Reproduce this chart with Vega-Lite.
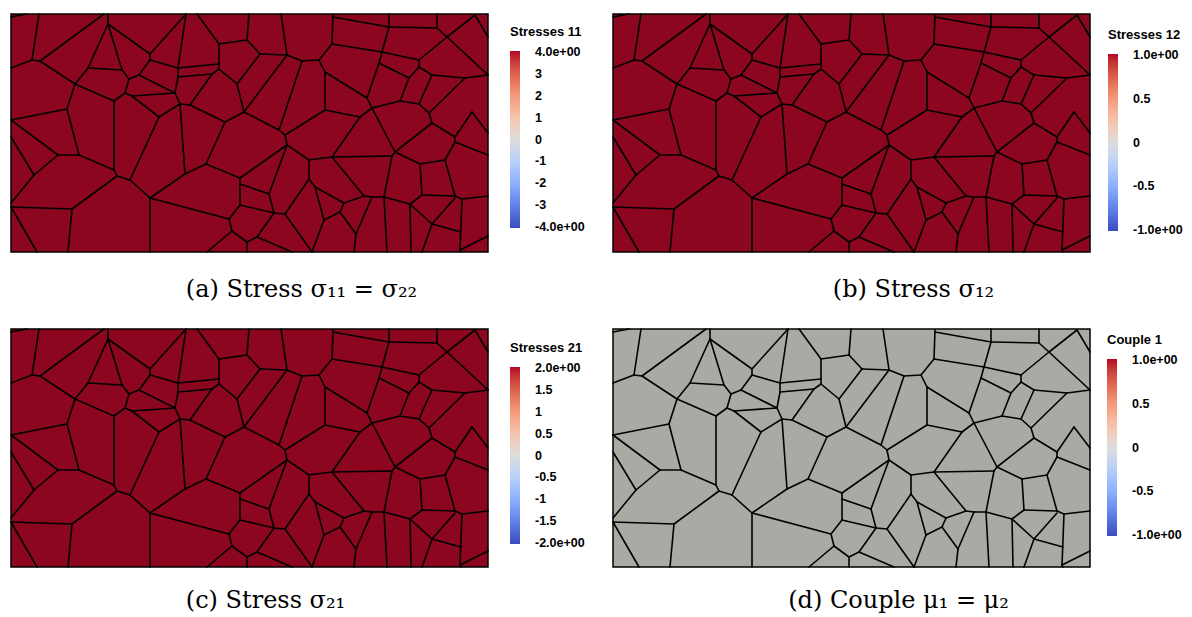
{
"$schema": "https://vega.github.io/schema/vega-lite/v6.json",
"background": "white",
"padding": {"left": 9, "top": 12, "right": 0, "bottom": 0},
"datasets": {
"edges": [
{"x1":9,"y1":15,"x2":25,"y2":12},{"x1":37,"y1":12,"x2":30,"y2":58},{"x1":30,"y1":58,"x2":9,"y2":66},{"x1":30,"y1":58,"x2":38,"y2":59},
{"x1":38,"y1":59,"x2":102,"y2":12},{"x1":38,"y1":59,"x2":73,"y2":82},{"x1":73,"y1":82,"x2":86,"y2":66},{"x1":86,"y1":66,"x2":106,"y2":22},
{"x1":106,"y1":22,"x2":106,"y2":12},{"x1":86,"y1":66,"x2":120,"y2":68},{"x1":106,"y1":22,"x2":120,"y2":68},{"x1":120,"y1":68,"x2":127,"y2":77},
{"x1":127,"y1":77,"x2":137,"y2":73},{"x1":127,"y1":77,"x2":123,"y2":91},{"x1":106,"y1":22,"x2":148,"y2":52},{"x1":148,"y1":52,"x2":184,"y2":12},
{"x1":148,"y1":52,"x2":148,"y2":58},{"x1":148,"y1":58,"x2":137,"y2":73},{"x1":148,"y1":58,"x2":176,"y2":66},{"x1":137,"y1":73,"x2":173,"y2":91},
{"x1":123,"y1":91,"x2":130,"y2":94},{"x1":130,"y1":94,"x2":173,"y2":91},{"x1":123,"y1":91,"x2":112,"y2":99},{"x1":112,"y1":99,"x2":73,"y2":82},
{"x1":112,"y1":99,"x2":112,"y2":168},{"x1":73,"y1":82,"x2":65,"y2":107},{"x1":65,"y1":107,"x2":9,"y2":118},{"x1":65,"y1":107,"x2":77,"y2":153},
{"x1":9,"y1":118,"x2":56,"y2":153},{"x1":9,"y1":135,"x2":32,"y2":173},{"x1":32,"y1":173,"x2":56,"y2":153},{"x1":56,"y1":153,"x2":77,"y2":153},
{"x1":77,"y1":153,"x2":112,"y2":168},{"x1":112,"y1":168,"x2":115,"y2":174},{"x1":115,"y1":174,"x2":128,"y2":178},{"x1":115,"y1":174,"x2":70,"y2":207},
{"x1":70,"y1":207,"x2":9,"y2":205},{"x1":32,"y1":173,"x2":9,"y2":201},{"x1":9,"y1":205,"x2":35,"y2":250},{"x1":70,"y1":207,"x2":66,"y2":250},
{"x1":128,"y1":178,"x2":148,"y2":196},{"x1":148,"y1":196,"x2":148,"y2":250},{"x1":148,"y1":196,"x2":183,"y2":172},{"x1":183,"y1":172,"x2":204,"y2":162},
{"x1":183,"y1":172,"x2":178,"y2":102},{"x1":204,"y1":162,"x2":238,"y2":176},{"x1":238,"y1":176,"x2":238,"y2":182},{"x1":238,"y1":182,"x2":238,"y2":203},
{"x1":148,"y1":196,"x2":227,"y2":217},{"x1":227,"y1":217,"x2":238,"y2":203},{"x1":227,"y1":217,"x2":230,"y2":229},{"x1":230,"y1":229,"x2":205,"y2":250},
{"x1":230,"y1":229,"x2":245,"y2":240},{"x1":245,"y1":240,"x2":245,"y2":250},{"x1":130,"y1":94,"x2":157,"y2":115},{"x1":157,"y1":115,"x2":178,"y2":102},
{"x1":157,"y1":115,"x2":128,"y2":178},{"x1":173,"y1":91,"x2":178,"y2":102},{"x1":178,"y1":102,"x2":188,"y2":103},{"x1":188,"y1":103,"x2":223,"y2":120},
{"x1":223,"y1":120,"x2":242,"y2":110},{"x1":223,"y1":120,"x2":204,"y2":162},{"x1":176,"y1":66,"x2":184,"y2":12},{"x1":176,"y1":66,"x2":217,"y2":62},
{"x1":176,"y1":66,"x2":176,"y2":75},{"x1":176,"y1":75,"x2":210,"y2":72},{"x1":176,"y1":75,"x2":173,"y2":91},{"x1":210,"y1":72,"x2":188,"y2":103},
{"x1":210,"y1":72,"x2":217,"y2":67},{"x1":217,"y1":62,"x2":217,"y2":67},{"x1":217,"y1":62,"x2":217,"y2":42},{"x1":217,"y1":42,"x2":245,"y2":38},
{"x1":217,"y1":42,"x2":195,"y2":12},{"x1":217,"y1":67,"x2":235,"y2":82},{"x1":235,"y1":82,"x2":258,"y2":52},{"x1":235,"y1":82,"x2":242,"y2":110},
{"x1":245,"y1":38,"x2":247,"y2":12},{"x1":245,"y1":38,"x2":258,"y2":52},{"x1":258,"y1":52,"x2":285,"y2":53},{"x1":285,"y1":53,"x2":279,"y2":12},
{"x1":285,"y1":53,"x2":300,"y2":59},{"x1":285,"y1":53,"x2":242,"y2":110},{"x1":300,"y1":59,"x2":317,"y2":58},{"x1":300,"y1":59,"x2":277,"y2":128},
{"x1":242,"y1":110,"x2":277,"y2":128},{"x1":277,"y1":128,"x2":283,"y2":133},{"x1":317,"y1":58,"x2":330,"y2":42},{"x1":330,"y1":42,"x2":331,"y2":13},
{"x1":331,"y1":15,"x2":387,"y2":25},{"x1":387,"y1":25,"x2":387,"y2":12},{"x1":387,"y1":25,"x2":435,"y2":26},{"x1":435,"y1":26,"x2":435,"y2":12},
{"x1":435,"y1":26,"x2":445,"y2":35},{"x1":445,"y1":35,"x2":473,"y2":13},{"x1":473,"y1":13,"x2":486,"y2":35},{"x1":445,"y1":35,"x2":486,"y2":73},
{"x1":445,"y1":35,"x2":417,"y2":58},{"x1":330,"y1":42,"x2":380,"y2":50},{"x1":387,"y1":25,"x2":380,"y2":50},{"x1":380,"y1":50,"x2":417,"y2":58},
{"x1":380,"y1":50,"x2":377,"y2":61},{"x1":377,"y1":61,"x2":407,"y2":76},{"x1":377,"y1":61,"x2":365,"y2":96},{"x1":417,"y1":58,"x2":417,"y2":65},
{"x1":417,"y1":65,"x2":430,"y2":73},{"x1":417,"y1":65,"x2":407,"y2":76},{"x1":407,"y1":76,"x2":398,"y2":99},{"x1":430,"y1":73,"x2":417,"y2":102},
{"x1":430,"y1":73,"x2":463,"y2":76},{"x1":463,"y1":76,"x2":486,"y2":73},{"x1":463,"y1":76,"x2":427,"y2":111},{"x1":398,"y1":99,"x2":417,"y2":102},
{"x1":398,"y1":99,"x2":370,"y2":106},{"x1":365,"y1":96,"x2":370,"y2":106},{"x1":417,"y1":102,"x2":427,"y2":111},{"x1":427,"y1":111,"x2":430,"y2":121},
{"x1":430,"y1":121,"x2":453,"y2":135},{"x1":453,"y1":135,"x2":470,"y2":110},{"x1":470,"y1":110,"x2":486,"y2":131},{"x1":370,"y1":106,"x2":393,"y2":150},
{"x1":370,"y1":106,"x2":358,"y2":115},{"x1":358,"y1":115,"x2":330,"y2":155},{"x1":358,"y1":115,"x2":323,"y2":108},{"x1":323,"y1":108,"x2":323,"y2":70},
{"x1":323,"y1":70,"x2":317,"y2":58},{"x1":323,"y1":70,"x2":365,"y2":96},{"x1":323,"y1":108,"x2":283,"y2":133},{"x1":283,"y1":133,"x2":285,"y2":143},
{"x1":285,"y1":143,"x2":238,"y2":176},{"x1":285,"y1":143,"x2":307,"y2":158},{"x1":285,"y1":143,"x2":267,"y2":192},{"x1":238,"y1":182,"x2":267,"y2":192},
{"x1":267,"y1":192,"x2":272,"y2":211},{"x1":272,"y1":211,"x2":283,"y2":212},{"x1":272,"y1":211,"x2":238,"y2":203},{"x1":272,"y1":211,"x2":255,"y2":235},
{"x1":255,"y1":235,"x2":245,"y2":240},{"x1":255,"y1":235,"x2":290,"y2":250},{"x1":283,"y1":212,"x2":307,"y2":177},{"x1":283,"y1":212,"x2":310,"y2":250},
{"x1":307,"y1":158,"x2":307,"y2":177},{"x1":307,"y1":158,"x2":330,"y2":155},{"x1":307,"y1":177,"x2":313,"y2":185},{"x1":313,"y1":185,"x2":322,"y2":218},
{"x1":313,"y1":185,"x2":342,"y2":201},{"x1":342,"y1":201,"x2":338,"y2":210},{"x1":338,"y1":210,"x2":322,"y2":218},{"x1":322,"y1":218,"x2":310,"y2":250},
{"x1":338,"y1":210,"x2":354,"y2":232},{"x1":354,"y1":232,"x2":352,"y2":250},{"x1":354,"y1":232,"x2":370,"y2":195},{"x1":342,"y1":201,"x2":362,"y2":194},
{"x1":362,"y1":194,"x2":370,"y2":195},{"x1":370,"y1":195,"x2":382,"y2":195},{"x1":330,"y1":155,"x2":362,"y2":194},{"x1":330,"y1":155,"x2":390,"y2":154},
{"x1":390,"y1":154,"x2":382,"y2":195},{"x1":390,"y1":154,"x2":393,"y2":150},{"x1":393,"y1":150,"x2":430,"y2":121},{"x1":393,"y1":150,"x2":418,"y2":162},
{"x1":418,"y1":162,"x2":443,"y2":158},{"x1":418,"y1":162,"x2":420,"y2":193},{"x1":420,"y1":193,"x2":408,"y2":202},{"x1":420,"y1":193,"x2":453,"y2":194},
{"x1":382,"y1":195,"x2":385,"y2":250},{"x1":382,"y1":195,"x2":408,"y2":202},{"x1":408,"y1":202,"x2":409,"y2":250},{"x1":408,"y1":202,"x2":430,"y2":222},
{"x1":430,"y1":222,"x2":459,"y2":230},{"x1":430,"y1":222,"x2":453,"y2":196},{"x1":430,"y1":222,"x2":420,"y2":250},{"x1":453,"y1":194,"x2":443,"y2":158},
{"x1":453,"y1":194,"x2":460,"y2":197},{"x1":460,"y1":197,"x2":486,"y2":194},{"x1":460,"y1":197,"x2":458,"y2":248},{"x1":458,"y1":248,"x2":486,"y2":234},
{"x1":458,"y1":248,"x2":459,"y2":250},{"x1":443,"y1":158,"x2":453,"y2":140},{"x1":453,"y1":140,"x2":486,"y2":153},{"x1":453,"y1":140,"x2":453,"y2":135}
],
"s11": [{"v": -4}, {"v": 4}],
"s12": [{"v": -1}, {"v": 1}],
"s21": [{"v": -2}, {"v": 2}],
"c1": [{"v": -1}, {"v": 1}]
},
"columns": 2,
"spacing": {"row": 77, "column": 125},
"bounds": "flush",
"resolve": {"scale": {"color": "independent"}, "legend": {"color": "independent"}},
"concat": [
{
"width": 477, "height": 238,
"view": {"fill": "#8b061e", "stroke": "black", "strokeWidth": 1.5},
"title": {"text": "(a)  Stress σ₁₁ = σ₂₂", "orient": "bottom", "anchor": "middle", "frame": "group", "offset": 25, "dx": 52},
"layer": [
{"data": {"name": "edges"}, "mark": {"type": "rule", "color": "black", "strokeWidth": 1.6, "strokeCap": "round"},
"encoding": {"x": {"field": "x1", "type": "quantitative", "scale": {"domain": [9, 486], "nice": false, "zero": false}, "axis": null},
"y": {"field": "y1", "type": "quantitative", "scale": {"domain": [12, 250], "nice": false, "zero": false, "reverse": true}, "axis": null},
"x2": {"field": "x2"}, "y2": {"field": "y2"}}},
{"data": {"name": "s11"}, "mark": {"type": "point", "filled": true, "size": 0, "opacity": 1},
"encoding": {"color": {"field": "v", "type": "quantitative", "title": "Stresses 11",
"scale": {"domain": [-4.04, -3, -2, -1, 0, 1, 2, 3, 4.04], "range": ["#3b4cc0", "#6282ea", "#8db0fe", "#b8d0f9", "#dddddd", "#f5c4ad", "#f49a7b", "#de604d", "#b40426"]},
"legend": {"orient": "none", "legendX": 499, "legendY": 12, "labelOffset": 15, "values": [-4, -3, -2, -1, 0, 1, 2, 3, 4],
"labelExpr": "datum.value == 4 ? '4.0e+00' : datum.value == -4 ? '-4.0e+00' : '' + datum.value"}}}}
]
},
{
"width": 477, "height": 238,
"view": {"fill": "#8b061e", "stroke": "black", "strokeWidth": 1.5},
"title": {"text": "(b)  Stress σ₁₂", "orient": "bottom", "anchor": "middle", "frame": "group", "offset": 25, "dx": 62},
"layer": [
{"data": {"name": "edges"}, "mark": {"type": "rule", "color": "black", "strokeWidth": 1.6, "strokeCap": "round"},
"encoding": {"x": {"field": "x1", "type": "quantitative", "scale": {"domain": [9, 486], "nice": false, "zero": false}, "axis": null},
"y": {"field": "y1", "type": "quantitative", "scale": {"domain": [12, 250], "nice": false, "zero": false, "reverse": true}, "axis": null},
"x2": {"field": "x2"}, "y2": {"field": "y2"}}},
{"data": {"name": "s12"}, "mark": {"type": "point", "filled": true, "size": 0, "opacity": 1},
"encoding": {"color": {"field": "v", "type": "quantitative", "title": "Stresses 12",
"scale": {"domain": [-1.01, -0.75, -0.5, -0.25, 0, 0.25, 0.5, 0.75, 1.01], "range": ["#3b4cc0", "#6282ea", "#8db0fe", "#b8d0f9", "#dddddd", "#f5c4ad", "#f49a7b", "#de604d", "#b40426"]},
"legend": {"orient": "none", "legendX": 495, "legendY": 15, "labelOffset": 15, "values": [-1, -0.5, 0, 0.5, 1],
"labelExpr": "datum.value == 1 ? '1.0e+00' : datum.value == -1 ? '-1.0e+00' : '' + datum.value"}}}}
]
},
{
"width": 477, "height": 238,
"view": {"fill": "#8b061e", "stroke": "black", "strokeWidth": 1.5},
"title": {"text": "(c)  Stress σ₂₁", "orient": "bottom", "anchor": "middle", "frame": "group", "offset": 21, "dx": 16},
"layer": [
{"data": {"name": "edges"}, "mark": {"type": "rule", "color": "black", "strokeWidth": 1.6, "strokeCap": "round"},
"encoding": {"x": {"field": "x1", "type": "quantitative", "scale": {"domain": [9, 486], "nice": false, "zero": false}, "axis": null},
"y": {"field": "y1", "type": "quantitative", "scale": {"domain": [12, 250], "nice": false, "zero": false, "reverse": true}, "axis": null},
"x2": {"field": "x2"}, "y2": {"field": "y2"}}},
{"data": {"name": "s21"}, "mark": {"type": "point", "filled": true, "size": 0, "opacity": 1},
"encoding": {"color": {"field": "v", "type": "quantitative", "title": "Stresses 21",
"scale": {"domain": [-2.02, -1.5, -1, -0.5, 0, 0.5, 1, 1.5, 2.02], "range": ["#3b4cc0", "#6282ea", "#8db0fe", "#b8d0f9", "#dddddd", "#f5c4ad", "#f49a7b", "#de604d", "#b40426"]},
"legend": {"orient": "none", "legendX": 499, "legendY": 13, "labelOffset": 15, "values": [-2, -1.5, -1, -0.5, 0, 0.5, 1, 1.5, 2],
"labelExpr": "datum.value == 2 ? '2.0e+00' : datum.value == -2 ? '-2.0e+00' : '' + datum.value"}}}}
]
},
{
"width": 477, "height": 238,
"view": {"fill": "#aba9a4", "stroke": "black", "strokeWidth": 1.5},
"title": {"text": "(d)  Couple μ₁ = μ₂", "orient": "bottom", "anchor": "middle", "frame": "group", "offset": 21, "dx": 47},
"layer": [
{"data": {"name": "edges"}, "mark": {"type": "rule", "color": "black", "strokeWidth": 1.6, "strokeCap": "round"},
"encoding": {"x": {"field": "x1", "type": "quantitative", "scale": {"domain": [9, 486], "nice": false, "zero": false}, "axis": null},
"y": {"field": "y1", "type": "quantitative", "scale": {"domain": [12, 250], "nice": false, "zero": false, "reverse": true}, "axis": null},
"x2": {"field": "x2"}, "y2": {"field": "y2"}}},
{"data": {"name": "c1"}, "mark": {"type": "point", "filled": true, "size": 0, "opacity": 1},
"encoding": {"color": {"field": "v", "type": "quantitative", "title": "Couple 1",
"scale": {"domain": [-1.01, -0.75, -0.5, -0.25, 0, 0.25, 0.5, 0.75, 1.01], "range": ["#3b4cc0", "#6282ea", "#8db0fe", "#b8d0f9", "#dddddd", "#f5c4ad", "#f49a7b", "#de604d", "#b40426"]},
"legend": {"orient": "none", "legendX": 494, "legendY": 5, "labelOffset": 15, "values": [-1, -0.5, 0, 0.5, 1],
"labelExpr": "datum.value == 1 ? '1.0e+00' : datum.value == -1 ? '-1.0e+00' : '' + datum.value"}}}}
]
}
],
"config": {
"title": {"font": "DejaVu Serif", "fontSize": 24, "fontWeight": "normal", "color": "black"},
"legend": {"direction": "vertical", "gradientLength": 177, "gradientThickness": 10, "padding": 0,
"labelFont": "Liberation Sans", "labelFontSize": 12.5, "labelFontWeight": "bold", "labelColor": "black",
"labelOverlap": false, "labelLimit": 200,
"titleFont": "Liberation Sans", "titleFontSize": 13, "titleFontWeight": "bold", "titleColor": "black", "titlePadding": 12}
}
}
